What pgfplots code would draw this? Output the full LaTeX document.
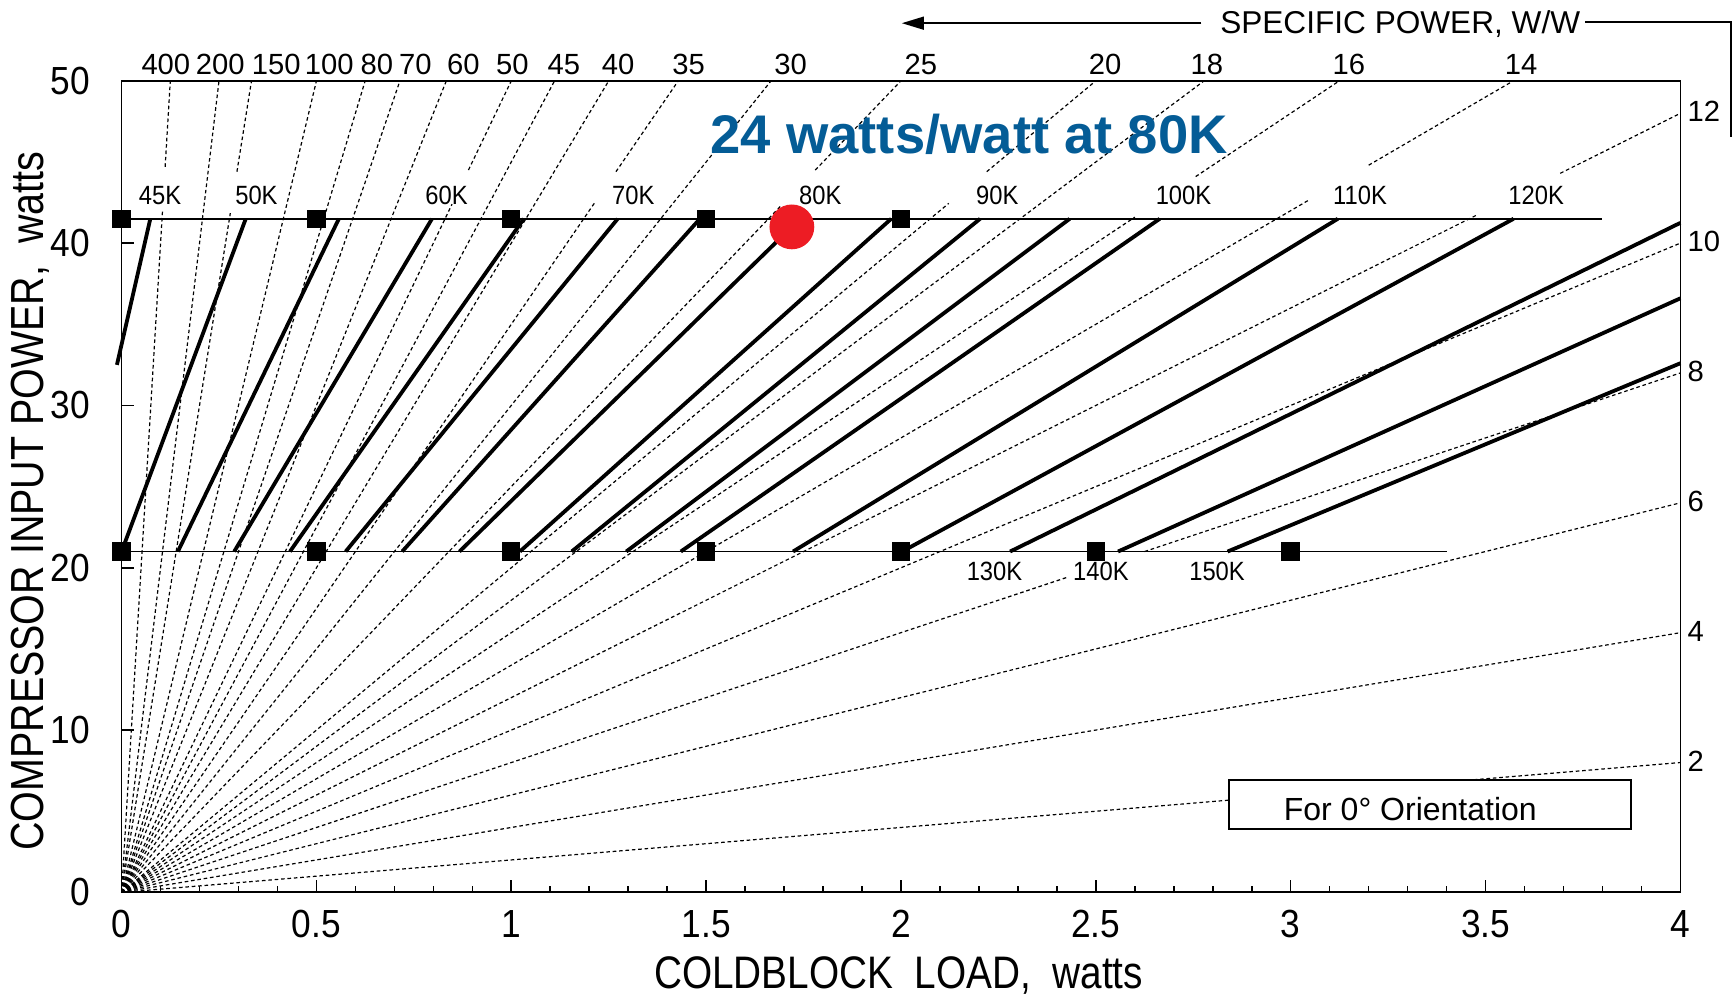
\documentclass[border=0pt]{standalone}
\usepackage{fontspec}
\setmainfont{Liberation Sans}
\newfontfamily\condfont{Liberation Sans}[FakeStretch=0.9]
\newfontfamily\narrowfont{Liberation Sans}[FakeStretch=0.85]
\usepackage{pgfplots}
\pgfplotsset{compat=1.18}
\usetikzlibrary{arrows.meta}

\definecolor{titleblue}{RGB}{4,92,150}
\definecolor{dotred}{RGB}{237,28,36}

\begin{document}
\begin{tikzpicture}
\begin{axis}[
  name=ax,
  scale only axis, width=389.7pt, height=202.9pt,
  xmin=0, xmax=4, ymin=0, ymax=50,
  axis line style={line width=0.45pt},
  xtick={0,0.5,1,1.5,2,2.5,3,3.5,4},
  ytick={0,10,20,30,40,50},
  minor x tick num=4,
  xtick pos=left, ytick pos=left,
  tick align=inside,
  major tick length=3pt, minor tick length=1.7pt,
  tick style={line width=0.4pt, black},
  /pgf/number format/assume math mode=true,
  ticklabel style={font=\condfont\fontsize{9.8}{11}\selectfont},
  xticklabel style={yshift=-0.9pt},
  yticklabel style={xshift=-4.4pt},
  clip=false,
  unbounded coords=jump,
  spec/.style={black, line width=0.3pt, dash pattern=on 0.9pt off 0.7pt},
  kline/.style={black, line width=0.95pt},
  kref/.style={black, line width=0.45pt},
]

% ---- specific power rays P = k * Q (dashed), with breaks around the labels
\addplot[spec] coordinates {(0,0) (0.10488,41.95) (0.11,nan) (0.11175,44.7) (0.125,50)};   % 400
\addplot[spec] coordinates {(0,0) (0.25,50)};                                               % 200
\addplot[spec] coordinates {(0,0) (0.279,41.85) (0.29,nan) (0.296,44.4) (0.33333,50)};      % 150
\addplot[spec] coordinates {(0,0) (0.5,50)};                                                % 100
\addplot[spec] coordinates {(0,0) (0.625,50)};                                              % 80
\addplot[spec] coordinates {(0,0) (0.71429,50)};                                            % 70
\addplot[spec] coordinates {(0,0) (0.83333,50)};                                            % 60
\addplot[spec] coordinates {(0,0) (0.848,42.4) (0.87,nan) (0.89,44.5) (1,50)};              % 50
\addplot[spec] coordinates {(0,0) (1.11111,50)};                                            % 45
\addplot[spec] coordinates {(0,0) (1.25,50)};                                               % 40
\addplot[spec] coordinates {(0,0) (1.21629,42.57) (1.24,nan) (1.26857,44.4) (1.42857,50)};  % 35
\addplot[spec] coordinates {(0,0) (1.66667,50)};                                            % 30
\addplot[spec] coordinates {(0,0) (1.69,42.25) (1.73,nan) (1.78,44.5) (2,50)};              % 25
\addplot[spec] coordinates {(0,0) (2.1225,42.45) (2.17,nan) (2.22,44.4) (2.5,50)};          % 20
\addplot[spec] coordinates {(0,0) (2.77778,50)};                                            % 18
\addplot[spec] coordinates {(0,0) (2.6,41.6) (2.68,nan) (2.75625,44.1) (3.125,50)};         % 16
\addplot[spec] coordinates {(0,0) (3.04643,42.65) (3.12,nan) (3.2,44.8) (3.57143,50)};      % 14
\addplot[spec] coordinates {(0,0) (3.475,41.7) (3.58,nan) (3.69167,44.3) (4,48)};           % 12
\addplot[spec] coordinates {(0,0) (4,40)};                                                  % 10
\addplot[spec] coordinates {(0,0) (2.425,19.4) (2.5,nan) (2.625,21) (4,32)};                % 8
\addplot[spec] coordinates {(0,0) (4,24)};                                                  % 6
\addplot[spec] coordinates {(0,0) (4,16)};                                                  % 4
\addplot[spec] coordinates {(0,0) (4,8)};                                                   % 2

% ---- compressor input power levels
\addplot[kref] coordinates {(0,41.5) (3.8,41.5)};
\addplot[kref] coordinates {(0,21) (3.4,21)};

% ---- coldblock temperature lines
\addplot[kline] coordinates {(-0.012,32.5) (0.0737,41.5)};  % 45K
\addplot[kline] coordinates {(0,21) (0.3186,41.5)};         % 50K
\addplot[kline] coordinates {(0.1445,21) (0.5575,41.5)};    % 55K
\addplot[kline] coordinates {(0.289,21) (0.7965,41.5)};     % 60K
\addplot[kline] coordinates {(0.432,21) (1.032,41.5)};      % 65K
\addplot[kline] coordinates {(0.575,21) (1.273,41.5)};      % 70K
\addplot[kline] coordinates {(0.72,21) (1.484,41.5)};       % 75K
\addplot[kline] coordinates {(0.867,21) (1.72,41.0)};       % 80K
\addplot[kline] coordinates {(1.022,21) (1.975,41.5)};      % 85K
\addplot[kline] coordinates {(1.155,21) (2.203,41.5)};      % 90K
\addplot[kline] coordinates {(1.295,21) (2.433,41.5)};      % 95K
\addplot[kline] coordinates {(1.435,21) (2.664,41.5)};      % 100K
\addplot[kline] coordinates {(1.723,21) (3.121,41.5)};      % 110K
\addplot[kline] coordinates {(2.003,21) (3.572,41.5)};      % 120K
\addplot[kline] coordinates {(2.28,21) (4,41.25)};          % 130K
\addplot[kline] coordinates {(2.557,21) (4,36.6)};          % 140K
\addplot[kline] coordinates {(2.838,21) (4,32.6)};          % 150K

% ---- load markers on the two power levels
\addplot[only marks, mark=square*, mark size=2.1pt, black]
  coordinates {(0,41.5) (0.5,41.5) (1,41.5) (1.5,41.5) (2,41.5)};
\addplot[only marks, mark=square*, mark size=2.1pt, black]
  coordinates {(0,21) (0.5,21) (1,21) (1.5,21) (2,21) (2.5,21) (3,21)};

% ---- operating point
\addplot[only marks, mark=*, mark size=5.4pt, color=dotred, mark options={draw=dotred, fill=dotred}]
  coordinates {(1.72,41.0)};

% ---- temperature labels
\begin{scope}[every node/.style={font=\condfont\fontsize{6.6}{7}\selectfont, anchor=base, inner sep=0pt}]
\node at (axis cs:0.0985,42.4) {45K};
\node at (axis cs:0.346,42.4) {50K};
\node at (axis cs:0.834,42.4) {60K};
\node at (axis cs:1.313,42.4) {70K};
\node at (axis cs:1.793,42.4) {80K};
\node at (axis cs:2.247,42.4) {90K};
\node at (axis cs:2.725,42.4) {100K};
\node at (axis cs:3.178,42.4) {110K};
\node at (axis cs:3.63,42.4) {120K};
\node at (axis cs:2.24,19.24) {130K};
\node at (axis cs:2.513,19.24) {140K};
\node at (axis cs:2.811,19.24) {150K};
\end{scope}

% ---- specific power scale along the top and right edges
\begin{scope}[every node/.style={font=\fontsize{7.3}{8}\selectfont, anchor=base, inner sep=0pt}]
\node at (axis cs:0.1136,50.36) {400};
\node at (axis cs:0.253,50.36) {200};
\node at (axis cs:0.397,50.36) {150};
\node at (axis cs:0.533,50.36) {100};
\node at (axis cs:0.655,50.36) {80};
\node at (axis cs:0.754,50.36) {70};
\node at (axis cs:0.877,50.36) {60};
\node at (axis cs:1.003,50.36) {50};
\node at (axis cs:1.135,50.36) {45};
\node at (axis cs:1.274,50.36) {40};
\node at (axis cs:1.455,50.36) {35};
\node at (axis cs:1.717,50.36) {30};
\node at (axis cs:2.051,50.36) {25};
\node at (axis cs:2.524,50.36) {20};
\node at (axis cs:2.785,50.36) {18};
\node at (axis cs:3.149,50.36) {16};
\node at (axis cs:3.591,50.36) {14};
\end{scope}
\begin{scope}[every node/.style={font=\fontsize{7.3}{8}\selectfont, anchor=west, inner sep=0pt, xshift=1.6pt, yshift=0.4pt}]
\node at (axis cs:4,48) {12};
\node at (axis cs:4,40) {10};
\node at (axis cs:4,32) {8};
\node at (axis cs:4,24) {6};
\node at (axis cs:4,16) {4};
\node at (axis cs:4,8) {2};
\end{scope}

% scale title with its arrow and bracket
\node[font=\fontsize{7.9}{9}\selectfont, anchor=base, inner sep=0pt] at (axis cs:3.281,52.9) {SPECIFIC POWER, W/W};
\draw[line width=0.5pt, -{Triangle[length=5.5pt, width=3.2pt]}] (axis cs:2.771,53.55) -- (axis cs:2.002,53.55);
\draw[line width=0.5pt] (axis cs:3.756,53.6) -- (axis cs:4.13,53.6) -- (axis cs:4.13,46.53);

% ---- headline
\node[font=\fontsize{13.6}{16}\selectfont\bfseries, text=titleblue, anchor=base, inner sep=0pt]
  at (axis cs:2.175,45.55) {24 watts/watt at 80K};

% ---- orientation note
\node[draw, fill=white, line width=0.45pt, anchor=south west, inner sep=0pt,
      minimum width=100.4pt, minimum height=12.3pt] at (axis cs:2.84,3.83) {};
\node[font=\fontsize{8}{9}\selectfont, anchor=base, inner sep=0pt] at (axis cs:3.307,4.45) {For 0° Orientation};

% ---- axis titles
\node[font=\narrowfont\fontsize{11.4}{13}\selectfont, anchor=base, inner sep=0pt] at (axis cs:1.9936,-5.91)
  {COLDBLOCK\ \ LOAD,\ \ watts};
\node[font=\narrowfont\fontsize{11.6}{13}\selectfont, anchor=base, inner sep=0pt, rotate=90] at (axis cs:-0.1992,24.1)
  {COMPRESSOR INPUT POWER,\ \ watts};
\end{axis}
\pgfresetboundingbox
\path[use as bounding box] ([shift={(-30.4pt,-25.9pt)}]ax.south west) rectangle ([shift={(13.9pt,20.2pt)}]ax.north east);
\end{tikzpicture}
\end{document}
